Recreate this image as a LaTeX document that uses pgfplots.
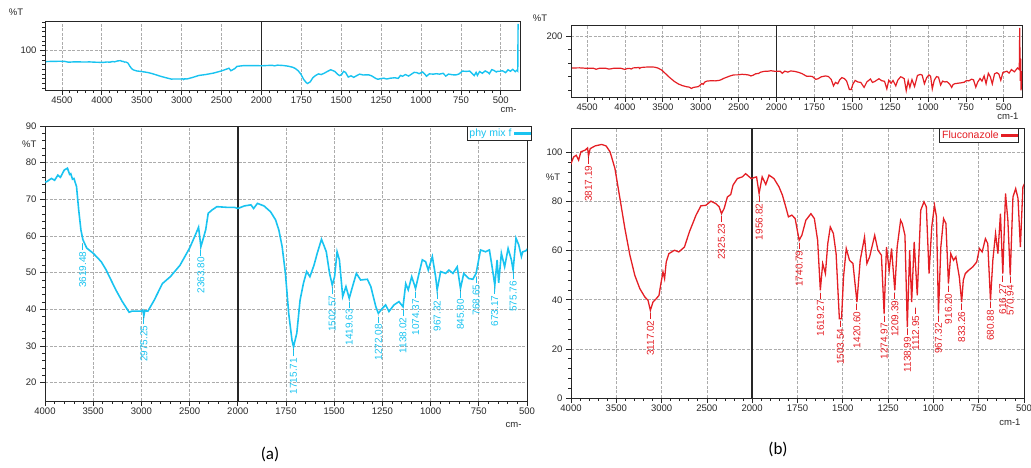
\documentclass[border=0pt]{standalone}
\usepackage{fontspec}
\setmainfont{Liberation Sans}
\newfontfamily\panelfont{Carlito}
\usepackage{pgfplots}
\usepackage{pgfplotstable}
\pgfplotsset{compat=1.18}

\definecolor{mixcyan}{RGB}{25,195,240}
\definecolor{flured}{RGB}{228,30,36}
\definecolor{gridgray}{RGB}{172,172,172}
\definecolor{txtgray}{RGB}{40,40,40}

% phy mix f: wavenumber / %T
\pgfplotstableread{
wn t
4700 76.5
4620 77
4520 77.2
4460 76.8
4420 75.2
4360 75.8
4300 76
4240 75.6
4150 75.8
4080 75.2
4000 74.8
3983 74.8
3933 75.7
3900 75.2
3867 76.6
3840 76
3800 78
3767 78.5
3745 76.8
3733 77
3715 75.5
3700 75.7
3673 73.5
3650 67
3627 61.6
3607 59
3567 56.7
3500 55.3
3417 53
3367 50.8
3267 45.4
3200 42.2
3127 39.2
3100 39.5
3000 39.5
2985 39.8
2975 38.2
2965 39.6
2933 39.5
2867 42.5
2783 47
2700 48.9
2600 52
2500 56.7
2440 60.3
2407 62.4
2383 57.1
2367 58.5
2333 61.7
2307 66.2
2267 67.1
2217 68
2102 67.8
2033 67.8
2000 67.5
1966 68.2
1932 68.5
1918 67.5
1898 68.9
1864 68.2
1830 66.6
1804 64.4
1787 61.6
1770 57.1
1753 49.8
1736 38.9
1719 31.6
1711 29.8
1694 33.5
1677 42.5
1660 47
1643 50.3
1626 48.9
1605 52
1588 55.3
1566 59.1
1554 57.5
1541 55.7
1524 49.8
1510 46.6
1498 48.9
1485 55.7
1473 53.5
1456 43.5
1439 46.2
1422 43
1405 46.2
1385 49.8
1363 48
1328 48.2
1310 46.2
1284 40.7
1271 38.9
1250 40.3
1233 41.2
1216 39.4
1190 41.2
1164 42.1
1143 40.7
1129 47
1116 45.3
1098 48.9
1078 45.7
1060 49.8
1043 53.5
1026 53
1012 50.7
991 54.4
974 48.9
966 45.3
948 50.3
922 49.8
905 50.7
884 49.8
862 51.6
845 45.7
828 49.8
802 48.4
781 48.2
764 49.8
741 56.2
715 55.7
695 56.2
681 51.6
667 46.6
655 53.5
647 47.2
633 55.3
616 51.6
598 56.6
581 53.5
572 50.7
557 59.4
543 57.6
529 54.4
522 55.7
505 56
490 57
470 53
455 59
440 56
425 60
410 55
400 58
394 56
392 157
}\specA

% Fluconazole: wavenumber / %T
\pgfplotstableread{
wn t
4700 100
4600 100.5
4500 99
4420 99.5
4380 96
4340 99
4250 99
4210 96.5
4150 99
4060 99.5
4000 95.5
3971 98.2
3942 98.9
3916 96.9
3891 100.3
3843 101
3817 101.9
3807 98.6
3788 101.6
3734 102.7
3661 103.3
3613 102.7
3569 100.3
3515 93.5
3460 81.3
3405 69
3350 58.2
3296 50
3241 44.6
3186 41.2
3150 39.8
3124 35.7
3095 39.1
3058 40.5
3029 41.8
3011 45.9
2985 51.4
2967 48.6
2949 55.4
2920 58.8
2858 60.2
2810 59.5
2748 61.5
2693 67.7
2620 74.5
2566 78.3
2511 78.5
2456 80.2
2401 79.2
2365 77.9
2339 75.1
2310 77.2
2274 81.9
2237 82.9
2212 86.7
2164 89.4
2109 90.1
2073 91.4
2011 89.4
1976 90.1
1962 83.3
1945 90.1
1925 87
1907 90.8
1880 89.4
1852 86
1833 82.6
1815 77.9
1800 73.8
1781 74.5
1763 73.1
1741 64.3
1726 66.3
1704 72.4
1676 75.1
1657 73.1
1639 64.3
1624 43.9
1611 54.8
1596 50.7
1583 62.9
1569 69.7
1552 67
1537 58.8
1519 32.3
1507 32.3
1496 49.3
1481 60.9
1463 56.1
1444 54.8
1422 39.1
1404 56.1
1380 65.6
1367 54.8
1352 57.5
1324 66.3
1306 60.2
1287 58.2
1272 34.4
1259 61.5
1244 52
1231 60.9
1213 43.9
1200 61.5
1181 72.4
1172 71.1
1157 66.3
1144 28.9
1131 60.2
1120 39.1
1106 63.6
1089 41.8
1070 76.5
1052 79.9
1039 77.9
1024 50.7
1009 69.7
994 78.5
983 73.8
972 34.4
959 61.5
944 73.1
931 71.1
917 46.6
904 58.8
889 56.1
876 57.5
857 49.3
844 39.1
835 48
824 50.7
806 52
783 53.4
761 55.4
746 60.9
731 59.5
713 64.9
700 62.9
685 39.8
672 56.1
657 67
644 58.8
630 75.1
617 50.7
602 83.3
589 72.4
576 50
561 81.9
546 85.3
533 81.3
520 61.5
506 86
496 87.4
480 90
465 84
450 95
430 88
410 100
398 95
395 226
392 60
389 130
386 30
380 90
375 60
}\specB

% peak labels: position of the leader top and text
\pgfplotstableread{
wn t lab
3610 58 3619.48
2975 37.8 2975.25
2383 56.5 2363.80
1711 29 1715.71
1510 46 1502.57
1422 42.3 1419.63
1271 38.2 1272.08
1143 40 1138.02
1078 45 1074.37
966 44.6 967.32
845 45 845.80
764 49 768.65
667 46 673.17
572 50 575.76
}\labA

\pgfplotstableread{
wn t lab
3807 98 3817.19
3124 35 3117.02
2339 74.5 2325.23
1962 82.5 1956.82
1741 63.5 1740.79
1624 43.2 1619.27
1513 31.7 1503.54
1422 38.5 1420.60
1272 33.8 1274.97
1213 43 1209.39
1144 28.3 1138.99
1098 37 1112.95
972 33.8 967.32
917 46 916.20
844 38.5 833.26
685 39.2 680.88
617 50 616.27
576 49.4 570.94
}\labB

\pgfplotsset{
  ftir/.style={
    scale only axis,
    x filter/.expression={x>=2000 ? 4000-x : 6000-2*x},
    xtick={-500,0,500,...,5000},
    xticklabels={4500,4000,3500,3000,2500,2000,1750,1500,1250,1000,750,500},
    minor x tick num=4,
    xmajorgrids=true, ymajorgrids=true,
    major grid style={draw=gridgray, dash pattern=on 3pt off 1.5pt, line width=0.8pt},
    extra x ticks={2000}, extra x tick labels={},
    extra x tick style={xmajorgrids=true, ymajorgrids=false,
      major grid style={draw=black!85, solid, line width=1.5pt},
      major tick length=0pt},
    tick align=outside, xtick pos=bottom, ytick pos=left,
    major tick length=5pt, minor tick length=3pt,
    tick style={black!85, line width=0.8pt},
    axis line style={black!85, line width=0.9pt},
    ticklabel style={font=\fontsize{9.5}{10}\selectfont, text=txtgray},
    xticklabel style={yshift=1.5pt},
    /pgf/number format/assume math mode=true,
    label style={font=\fontsize{9.5}{10}\selectfont, text=txtgray},
  },
  strip/.style={ftir, xmin=-712, xmax=5240},
  peaks/.style={only marks, mark=*, mark size=0.01pt,
    mark options={draw=none, fill=none}, forget plot,
    point meta=explicit symbolic,
    nodes near coords={\pgfplotspointmeta\,\rule[0.33em]{6pt}{0.6pt}},
    nodes near coords style={rotate=90, anchor=east, inner sep=0.5pt,
      font=\fontsize{10}{10}\selectfont, text=#1}},
  speclegend/.style={
    legend style={at={(rel axis cs:1,1)}, anchor=north east,
      draw=black!85, thick, inner sep=0.5pt, row sep=-2pt,
      font=\fontsize{10.5}{10}\selectfont, text=#1},
    legend image code/.code={\fill[#1] (0pt,-0.9pt) rectangle (16pt,0.9pt);},
    legend plot pos=right, legend cell align=left},
}

\begin{document}
\begin{tikzpicture}
\useasboundingbox (0,0) rectangle (1031pt,468pt);

% (a) overview strip
\begin{axis}[strip, at={(45pt,378pt)}, anchor=south west,
  width=475pt, height=69pt, ymin=16, ymax=163,
  ytick={100}, minor ytick={20,30,...,160},
  xlabel={cm-}, xlabel style={at={(rel axis cs:1,0)}, anchor=north east, yshift=-14pt},
  ylabel={\%T}, ylabel style={rotate=-90, at={(rel axis cs:0,1)}, anchor=south, xshift=-29pt, yshift=2pt}]
\addplot[mixcyan, line width=1.4pt] table[x=wn, y=t] {\specA};
\end{axis}

% (a) main spectrum
\begin{axis}[ftir, at={(45pt,67pt)}, anchor=south west,
  width=482pt, height=275pt, xmin=0, xmax=5000, ymin=15, ymax=90,
  ytick={20,30,...,90}, minor y tick num=4,
  xlabel={cm-}, xlabel style={at={(rel axis cs:1,0)}, anchor=north east, yshift=-18pt, xshift=-2pt},
  ylabel={\%T}, ylabel style={rotate=-90, at={(rel axis cs:0,0.935)}, anchor=east, xshift=-5pt},
  speclegend=mixcyan, legend style={xshift=5pt}]
\addplot[mixcyan, line width=1.6pt] table[x=wn, y=t] {\specA};
\addlegendentry{phy mix f\ }
\addplot[peaks=mixcyan] table[x=wn, y=t, meta=lab] {\labA};
\end{axis}

% (b) overview strip
\begin{axis}[strip, at={(571pt,371pt)}, anchor=south west,
  width=451pt, height=72pt, ymin=9, ymax=235,
  ytick={200}, minor ytick={31,73,115,157},
  xlabel={cm-1}, xlabel style={at={(rel axis cs:1,0)}, anchor=north east, yshift=-12pt},
  ylabel={\%T}, ylabel style={rotate=-90, at={(rel axis cs:0,1)}, anchor=south, xshift=-31pt, yshift=0pt}]
\addplot[flured, line width=1.2pt] table[x=wn, y=t] {\specB};
\end{axis}

% (b) main spectrum
\begin{axis}[ftir, at={(571pt,70pt)}, anchor=south west,
  width=453pt, height=270pt, xmin=0, xmax=5000, ymin=0, ymax=110,
  ytick={0,20,...,100}, minor y tick num=4,
  xlabel={cm-1}, xlabel style={at={(rel axis cs:1,0)}, anchor=north east, yshift=-17pt},
  ylabel={\%T}, ylabel style={rotate=-90, at={(rel axis cs:0,0.819)}, anchor=center, xshift=-18pt},
  speclegend=flured, legend style={xshift=-5pt}]
\addplot[flured, line width=1.3pt] table[x=wn, y=t] {\specB};
\addlegendentry{Fluconazole\ }
\addplot[peaks=flured] table[x=wn, y=t, meta=lab] {\labB};
\end{axis}

\node[font=\panelfont\fontsize{17}{17}\selectfont] at (270pt,14pt) {(a)};
\node[font=\panelfont\fontsize{17}{17}\selectfont] at (778pt,19pt) {(b)};
\end{tikzpicture}
\end{document}
